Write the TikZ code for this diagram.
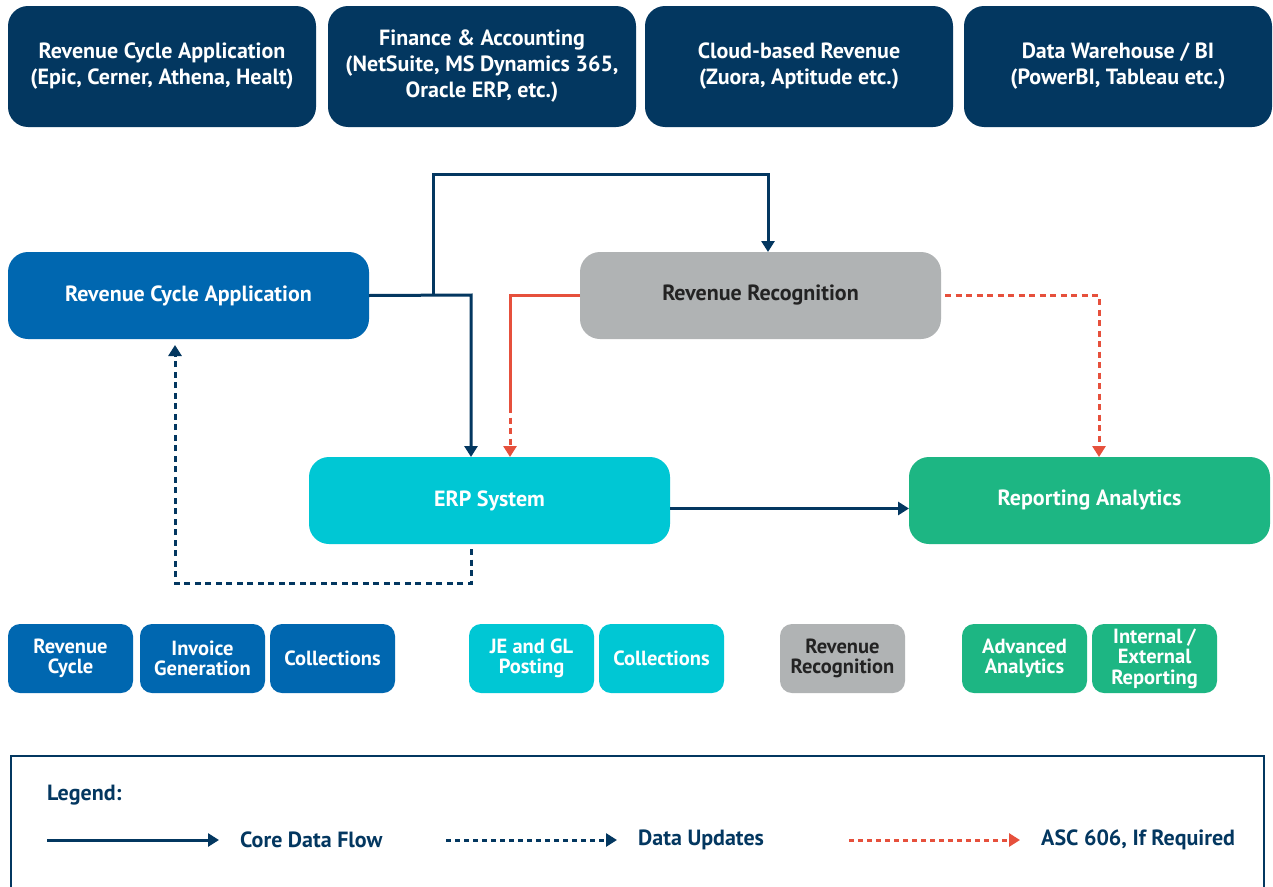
\documentclass[tikz,border=0pt]{standalone}
\usepackage{fontspec}
\setmainfont{PT Sans}
\usetikzlibrary{arrows.meta,calc}
\definecolor{navy}{RGB}{3,55,96}
\definecolor{rblue}{RGB}{0,103,176}
\definecolor{rgray}{RGB}{176,179,180}
\definecolor{rcyan}{RGB}{0,199,212}
\definecolor{rgreen}{RGB}{29,182,131}
\definecolor{rred}{RGB}{230,80,60}
\definecolor{dtext}{RGB}{35,35,35}
\tikzset{
  bx/.style={rectangle, rounded corners=20pt, outer sep=0pt, inner sep=2pt, anchor=north west, align=center,
     font=\bfseries\fontsize{22}{26}\selectfont, text=white},
  topbox/.style={bx, fill=navy, minimum width=308pt, minimum height=121pt},
  bigbox/.style={bx, minimum width=361pt, minimum height=87pt},
  smallbox/.style={bx, rounded corners=12pt, minimum width=125pt, minimum height=69pt, font=\bfseries\fontsize{20.5}{20.5}\selectfont},
  core/.style={draw=navy, line width=3pt, -{Triangle[width=13pt,length=11pt]}},
  upd/.style={draw=navy, line width=3pt, dash pattern=on 6pt off 4.5pt, -{Triangle[width=13pt,length=11pt]}},
  asc/.style={draw=rred, line width=3pt, dash pattern=on 6pt off 4.5pt, -{Triangle[width=13pt,length=11pt]}},
  lgtext/.style={anchor=west, text=navy, font=\bfseries\fontsize{22}{26}\selectfont, inner sep=0pt},
}
\begin{document}
\begin{tikzpicture}[x=1pt,y=-1pt]
\useasboundingbox (0,0) rectangle (1273,886);
\fill[white] (0,0) rectangle (1273,886);
% top row
\node[topbox] (t1) at (8,6) {Revenue Cycle Application\\(Epic, Cerner, Athena, Healt)};
\node[topbox] (t2) at (328,6) {Finance \& Accounting\\(NetSuite, MS Dynamics 365,\\Oracle ERP, etc.)};
\node[topbox] (t3) at (645,6) {Cloud-based Revenue\\(Zuora, Aptitude etc.)};
\node[topbox] (t4) at (964,6) {Data Warehouse / BI\\(PowerBI, Tableau etc.)};
% main boxes
\node[bigbox, fill=rblue] (rca) at (8,252) {Revenue Cycle Application};
\node[bigbox, fill=rgray, text=dtext] (rr) at (580,252) {Revenue Recognition};
\node[bigbox, fill=rcyan] (erp) at (309,457) {ERP System};
\node[bigbox, fill=rgreen] (ra) at (909,457) {Reporting Analytics};
% small boxes
\node[smallbox, fill=rblue] (s1) at (8,624) {Revenue\\Cycle};
\node[smallbox, fill=rblue] (s2) at (140,624) {Invoice\\Generation};
\node[smallbox, fill=rblue] (s3) at (270,624) {Collections};
\node[smallbox, fill=rcyan] (s4) at (469,624) {JE and GL\\Posting};
\node[smallbox, fill=rcyan] (s5) at (599,624) {Collections};
\node[smallbox, fill=rgray, text=dtext] (s6) at (780,624) {Revenue\\Recognition};
\node[smallbox, fill=rgreen] (s7) at (962,624) {Advanced\\Analytics};
\node[smallbox, fill=rgreen] (s8) at (1092,624) {Internal /\\External\\Reporting};
% connector coordinates
\coordinate (j1) at (471,295);
\coordinate (b1) at (433,295);
\coordinate (b2) at (768,174);
\coordinate (r1) at (510,407);
\coordinate (r2) at (1099,295);
\coordinate (d1) at (471,549);
\coordinate (d2) at (175,583);
\coordinate (d3) at (175,345);
% connectors
\draw[core] (rca.east) -- (j1) -- (j1 |- erp.north);
\draw[core] (b1) |- (b2) -- (b2 |- rr.north);
\draw[draw=rred, line width=3pt] (rr.west) -| (r1);
\draw[asc] (r1) -- (r1 |- erp.north);
\draw[asc] ([xshift=4pt]rr.east) -| (r2 |- ra.north);
\draw[core] ([yshift=-8pt]erp.east) -- ([yshift=-8pt]ra.west);
\draw[upd] (d1) |- (d2) -- (d3);
% legend
\draw[navy, line width=2.2pt] (11,756) rectangle (1264,900);
\node[lgtext] (lg) at (47,795) {Legend:};
\coordinate (l1a) at (47,840); \coordinate (l1b) at (219,840);
\coordinate (l2a) at (446,840); \coordinate (l2b) at (617,840);
\coordinate (l3a) at (849,840); \coordinate (l3b) at (1020,840);
\draw[core] (l1a) -- (l1b);
\draw[upd, dash pattern=on 5pt off 4pt] (l2a) -- (l2b);
\draw[asc, dash pattern=on 5pt off 4pt] (l3a) -- (l3b);
\node[lgtext] (lt1) at (240,840) {Core Data Flow};
\node[lgtext] (lt2) at (638,840) {Data Updates};
\node[lgtext] (lt3) at (1041,840) {ASC 606, If Required};
\end{tikzpicture}
\end{document}
